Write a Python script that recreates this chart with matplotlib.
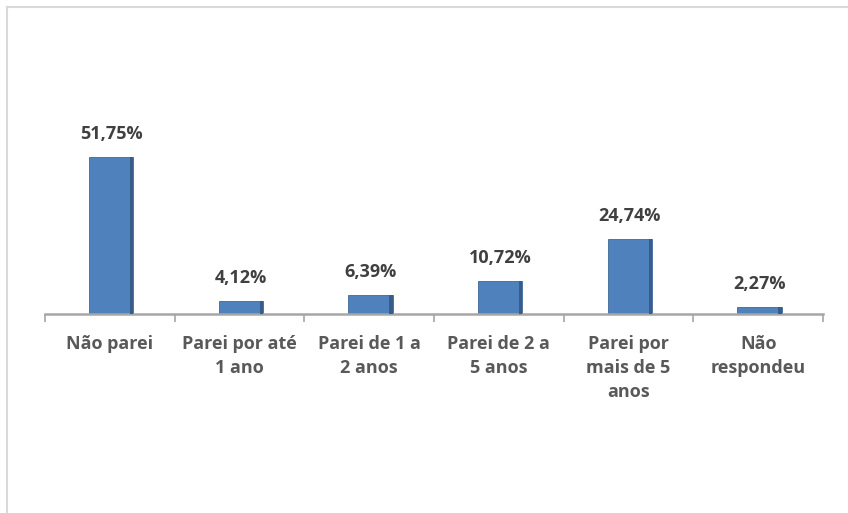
import matplotlib.pyplot as plt
from matplotlib.lines import Line2D

categories = ["Não parei", "Parei por até\n1 ano", "Parei de 1 a\n2 anos",
              "Parei de 2 a\n5 anos", "Parei por\nmais de 5\nanos", "Não\nrespondeu"]
values = [51.75, 4.12, 6.39, 10.72, 24.74, 2.27]
value_labels = ["51,75%", "4,12%", "6,39%", "10,72%", "24,74%", "2,27%"]

plt.rcParams['font.family'] = ['Open Sans', 'DejaVu Sans']

W, H = 848, 513
fig = plt.figure(figsize=(W / 100, H / 100), dpi=100)

# axes placed in pixel terms: baseline at y=314, x from 45 to 823
x0, x1, ybase = 45, 823, 314
ymax = 60
px_per_unit = 3.04
top = ybase - ymax * px_per_unit
ax = fig.add_axes([x0 / W, (H - ybase) / H, (x1 - x0) / W, (ybase - top) / H])

x = list(range(len(values)))
bw = 0.34
xb = [i + 0.01 for i in x]
ax.bar(xb, values, width=bw, color='#4F81BD', edgecolor='#3F6797', linewidth=0.6, zorder=2)
# darker right edge for the slight 3D look
ax.bar([i + bw / 2 - 0.012 for i in xb], values, width=0.024, color='#385D8A', zorder=3)

for i, v in enumerate(values):
    ax.text(xb[i], v + 4.6, value_labels[i], ha='center', va='bottom',
            fontsize=13, fontweight='bold', color='#404040')

ax.set_xlim(-0.5, len(values) - 0.5)
ax.set_ylim(0, ymax)
for s in ['top', 'right', 'left']:
    ax.spines[s].set_visible(False)
ax.spines['bottom'].set_color('#A6A6A6')
ax.spines['bottom'].set_linewidth(1.8)
ax.set_yticks([])

ax.set_xticks(x)
ax.set_xticklabels(categories, fontsize=13, fontweight='bold', color='#595959',
                   linespacing=1.45, va='top')
ax.tick_params(axis='x', which='major', length=0, pad=15)
ax.set_xticks([i - 0.5 for i in range(len(values) + 1)], minor=True)
ax.tick_params(axis='x', which='minor', length=6, width=1.2, color='#A6A6A6', direction='out')

# chart frame (top and left edges visible)
fig.add_artist(Line2D([7 / W, 7 / W], [0, 1 - 7 / H], transform=fig.transFigure,
                      color='#D9D9D9', lw=1.5))
fig.add_artist(Line2D([7 / W, 1], [1 - 7 / H, 1 - 7 / H], transform=fig.transFigure,
                      color='#D9D9D9', lw=1.5))

plt.savefig('out.png', dpi=100)
